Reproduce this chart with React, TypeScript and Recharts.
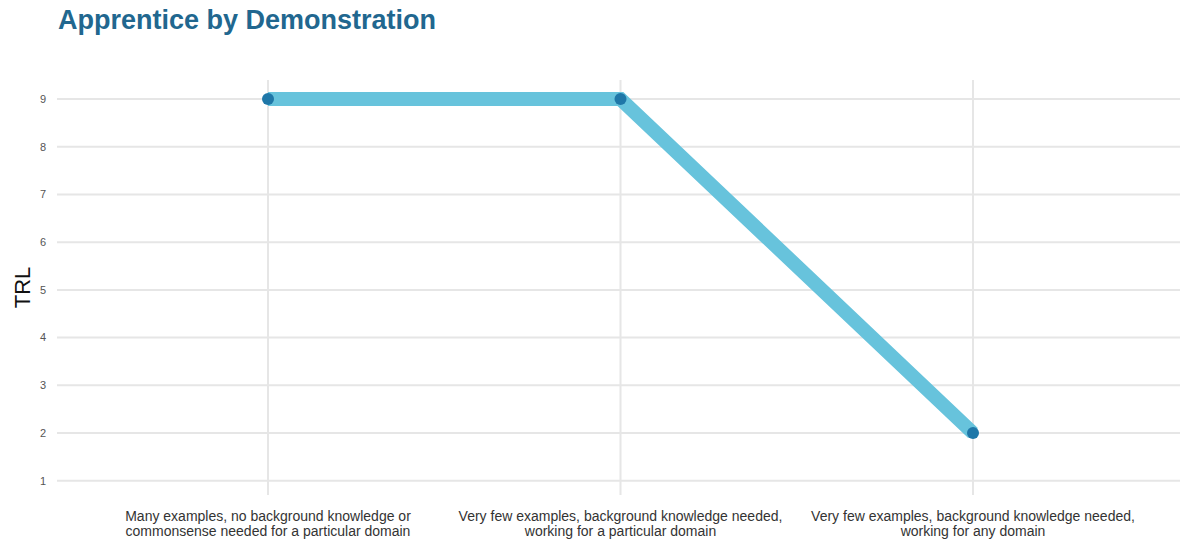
import { LineChart, Line, XAxis, YAxis, CartesianGrid } from 'recharts';

const categories = [
  'Many examples, no background knowledge or|commonsense needed for a particular domain',
  'Very few examples, background knowledge needed,|working for a particular domain',
  'Very few examples, background knowledge needed,|working for any domain',
];
const trlValues = [9, 9, 2];
const yTicks = [1, 2, 3, 4, 5, 6, 7, 8, 9];

const data = categories.map((name, i) => ({ name, trl: trlValues[i] }));

const font = '"Liberation Sans", Arial, sans-serif';

function CategoryTick({ x, y, payload }) {
  const lines = String(payload.value).split('|');
  return (
    <text x={x} y={y} textAnchor="middle" fontFamily={font} fontSize={14} fill="#333">
      {lines.map((line, i) => (
        <tspan key={i} x={x} dy={i === 0 ? 18 : 14.5}>{line}</tspan>
      ))}
    </text>
  );
}

export default function App() {
  return (
    <div style={{ position: 'absolute', left: 0, top: 0, width: 1182, height: 540, background: '#fff' }}>
      <div
        style={{
          position: 'absolute',
          left: 58,
          top: 5,
          fontFamily: font,
          fontWeight: 'bold',
          fontSize: 27,
          color: '#21678f',
        }}
      >
        Apprentice by Demonstration
      </div>
      <LineChart width={1182} height={540} data={data} margin={{ top: 80, right: 2, bottom: 0, left: 0 }}>
        <CartesianGrid stroke="#e6e6e6" strokeWidth={2} syncWithTicks />
        <XAxis
          dataKey="name"
          axisLine={false}
          tickLine={false}
          height={45}
          interval={0}
          padding={{ left: 211, right: 207 }}
          tick={<CategoryTick />}
        />
        <YAxis
          type="number"
          domain={[0.7, 9.4]}
          ticks={yTicks}
          width={57}
          axisLine={false}
          tickLine={false}
          tick={{ fontFamily: font, fontSize: 11, fill: '#555', dx: -3 }}
          label={{ value: 'TRL', angle: -90, position: 'insideLeft', offset: 22, style: { fontFamily: font, fontSize: 22, fill: '#111', textAnchor: 'middle' } }}
        />
        <Line
          type="linear"
          dataKey="trl"
          stroke="#67c3dc"
          strokeWidth={14}
          dot={{ r: 6, fill: '#1f77a8', stroke: 'none' }}
          activeDot={false}
          isAnimationActive={false}
        />
      </LineChart>
    </div>
  );
}
